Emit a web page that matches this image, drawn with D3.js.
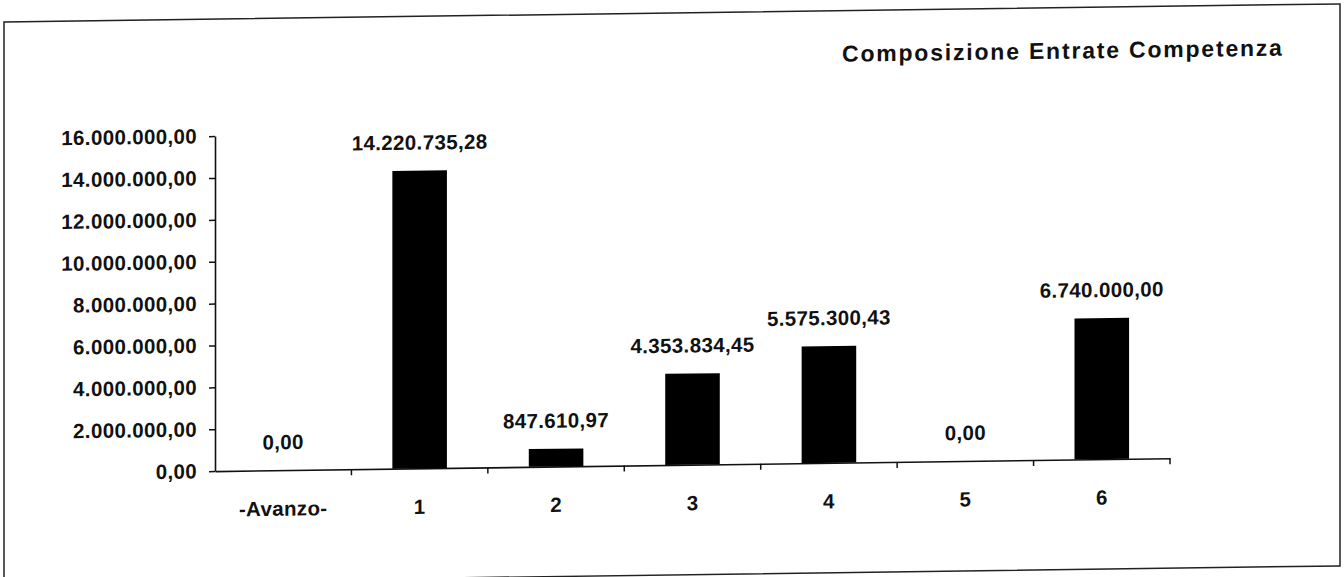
<!DOCTYPE html>
<html>
<head>
<meta charset="utf-8">
<script src="https://cdn.jsdelivr.net/npm/d3@7"></script>
<style>
  html, body { margin: 0; padding: 0; background: #fff; }
  svg { display: block; }
  text { font-family: "Liberation Sans", Arial, sans-serif; font-weight: bold; fill: #111; }
</style>
</head>
<body>
<svg id="chart" width="1344" height="577"></svg>
<script>
// Entrate di competenza per titolo
const categories = ["-Avanzo-", "1", "2", "3", "4", "5", "6"];
const values = [0, 14220735.28, 847610.97, 4353834.45, 5575300.43, 0, 6740000.00];
const yTicks = [0, 2000000, 4000000, 6000000, 8000000, 10000000, 12000000, 14000000, 16000000];
const title = "Composizione Entrate Competenza";

const it = d3.formatLocale({ decimal: ",", thousands: ".", grouping: [3], currency: ["€", ""] });
const fmt = it.format(",.2f");

const svg = d3.select("#chart");
const W = 1344, H = 577;
const margin = { left: 215, right: W - 1170, top: 139, bottom: H - 474 };
const FS = 20.5, LS = 0.35;

// the sheet sits slightly slanted
const root = svg.append("g").attr("transform", "skewY(-0.773)");

// frame
root.append("rect")
  .attr("x", 4).attr("y", 22)
  .attr("width", 1336).attr("height", 562)
  .attr("fill", "none").attr("stroke", "#222").attr("stroke-width", 1.5);

// title
root.append("text")
  .attr("x", 842).attr("y", 73)
  .attr("font-size", 23)
  .attr("letter-spacing", 1.8)
  .text(title);

const x = d3.scaleBand()
  .domain(categories)
  .range([margin.left, W - margin.right])
  .padding(0);

const y = d3.scaleLinear()
  .domain([0, 16000000])
  .range([H - margin.bottom, margin.top]);

function styleText(sel) {
  sel.attr("font-size", FS)
    .attr("letter-spacing", LS)
    .attr("font-family", "'Liberation Sans', Arial, sans-serif")
    .attr("font-weight", "bold")
    .attr("fill", "#111");
}

// y axis
const yAxis = root.append("g")
  .attr("transform", `translate(${margin.left},0)`)
  .call(d3.axisLeft(y).tickValues(yTicks).tickFormat(fmt).tickSize(6).tickSizeOuter(0));
yAxis.select(".domain").attr("stroke", "#111").attr("stroke-width", 1.6);
yAxis.selectAll(".tick line").attr("stroke", "#111").attr("stroke-width", 1.5);
yAxis.selectAll(".tick text").attr("x", -18).call(styleText);

// x axis: labels at band centres, ticks at band boundaries
const xAxis = root.append("g")
  .attr("transform", `translate(0,${y(0)})`)
  .call(d3.axisBottom(x).tickSize(0).tickSizeOuter(0));
xAxis.select(".domain").attr("stroke", "#111").attr("stroke-width", 1.6);
xAxis.selectAll(".tick text").attr("y", 31).call(styleText);

const bounds = categories.slice(1).map(c => x(c)).concat([x.range()[1]]);
xAxis.selectAll(".bound")
  .data(bounds)
  .join("line")
  .attr("class", "bound")
  .attr("x1", d => d).attr("x2", d => d)
  .attr("y1", 0).attr("y2", 6)
  .attr("stroke", "#111").attr("stroke-width", 1.5);

// bars
const barW = x.bandwidth() * 0.4;
root.append("g").selectAll("rect")
  .data(values)
  .join("rect")
  .attr("x", (d, i) => x(categories[i]) + (x.bandwidth() - barW) / 2)
  .attr("y", d => y(d))
  .attr("width", barW)
  .attr("height", d => y(0) - y(d))
  .attr("fill", "#000");

// value labels
root.append("g").selectAll("text")
  .data(values)
  .join("text")
  .attr("x", (d, i) => x(categories[i]) + x.bandwidth() / 2)
  .attr("y", d => y(d) - 21)
  .attr("text-anchor", "middle")
  .call(styleText)
  .text(d => fmt(d));
</script>
</body>
</html>
